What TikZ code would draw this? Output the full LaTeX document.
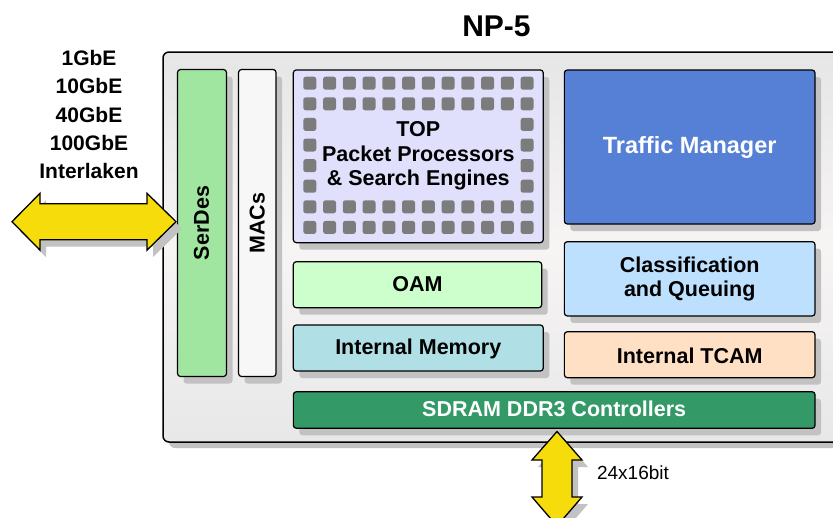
\documentclass[tikz,border=0pt]{standalone}
\usepackage{fontspec}
\setmainfont{Liberation Sans}
\usetikzlibrary{shadows,calc}
\definecolor{chiptop}{HTML}{E6E6E6}
\definecolor{chipmid}{HTML}{F7F4F4}
\definecolor{chipbot}{HTML}{E8E8E8}
\definecolor{shadowgray}{HTML}{C2C2C2}
\definecolor{serdescol}{HTML}{A0E6A0}
\definecolor{macscol}{HTML}{F7F7F7}
\definecolor{topcol}{HTML}{E0E0FC}
\definecolor{tmcol}{HTML}{5580D5}
\definecolor{classcol}{HTML}{BDE0FF}
\definecolor{oamcol}{HTML}{CCFFCC}
\definecolor{memcol}{HTML}{B0E0E6}
\definecolor{tcamcol}{HTML}{FFE0C4}
\definecolor{sdramcol}{HTML}{339966}
\definecolor{dotcol}{HTML}{7C7C7C}
\definecolor{yellowcol}{HTML}{F5DC0A}
\begin{document}
\begin{tikzpicture}[x=1pt,y=-1pt,
  shad/.style={drop shadow={shadow xshift=6pt,shadow yshift=-7pt,fill=shadowgray,opacity=1}},
  box/.style={shad,draw=black,line width=1.2pt,rounded corners=3pt,inner sep=0pt},
  chipbox/.style={draw=black,line width=1.5pt,rounded corners=6pt,inner sep=0pt,
    top color=chiptop,bottom color=chipbot,middle color=chipmid,
    drop shadow={shadow xshift=6pt,shadow yshift=-6pt,fill=shadowgray,opacity=1}},
  lbl/.style={font=\fontsize{21.5}{24.5}\selectfont\bfseries,align=center,inner sep=0pt},
  iolbl/.style={font=\fontsize{21}{24}\selectfont\bfseries,inner sep=0pt},
  dot/.style={fill=dotcol,rounded corners=2.5pt},
  bigarrow/.style={shad,draw=black,line width=1.3pt,fill=yellowcol,line join=miter}
]
\useasboundingbox (0,0) rectangle (833,517);

% chip
\node[chipbox,minimum width=682pt,minimum height=390pt] (chip) at (504,247) {};
\node[font=\fontsize{30}{32}\selectfont\bfseries,inner sep=0pt] (title) at (496.5,26) {NP-5};

% blocks
\node[box,fill=serdescol,minimum width=49pt,minimum height=307pt] (serdes) at (202,223) {};
\node[lbl,rotate=90] (serdesl) at (201.5,223) {SerDes};
\node[box,fill=macscol,minimum width=37.5pt,minimum height=307pt] (macs) at (257.3,223) {};
\node[lbl,rotate=90] (macsl) at (257.3,223) {MACs};

\node[box,fill=topcol,minimum width=250pt,minimum height=172.7pt] (top) at (418.3,156.3) {};
\foreach \r in {0,1,6,7}{\foreach \c in {0,...,11}{
  \fill[dot] ({303.3+\c*19.75},{76.7+\r*20.6}) rectangle +(13,13);}}
\foreach \r in {2,...,5}{\foreach \c in {0,11}{
  \fill[dot] ({303.3+\c*19.75},{76.7+\r*20.6}) rectangle +(13,13);}}
\node[lbl] (topl) at (418.3,156) {TOP\\Packet Processors\\\&\ Search Engines};

\node[box,fill=tmcol,minimum width=250.7pt,minimum height=154pt] (tm) at (689.7,147) {};
\node[lbl,text=white,font=\fontsize{23.5}{26}\selectfont\bfseries] (tml) at (689.7,147) {Traffic Manager};

\node[box,fill=classcol,minimum width=250.7pt,minimum height=74.3pt] (class) at (689.7,278.8) {};
\node[lbl] (classl) at (689.7,279) {Classification\\and Queuing};

\node[box,fill=oamcol,minimum width=248.4pt,minimum height=46pt] (oam) at (417.5,284.7) {};
\node[lbl] (oaml) at (417.5,284.5) {OAM};

\node[box,fill=memcol,minimum width=250pt,minimum height=46pt] (mem) at (418.3,348) {};
\node[lbl] (meml) at (418.3,349) {Internal Memory};

\node[box,fill=tcamcol,minimum width=250.7pt,minimum height=46pt] (tcam) at (689.7,354.7) {};
\node[lbl] (tcaml) at (689.7,355.5) {Internal TCAM};

\node[box,fill=sdramcol,minimum width=521.7pt,minimum height=36.6pt] (sdram) at (554.2,410) {};
\node[lbl,text=white] (sdraml) at (554.2,408.5) {SDRAM DDR3 Controllers};

% interface labels
\node[iolbl] (l1) at (89,57.5) {1GbE};
\node[iolbl] (l2) at (89,86) {10GbE};
\node[iolbl] (l3) at (89,114.5) {40GbE};
\node[iolbl] (l4) at (89,142.5) {100GbE};
\node[iolbl] (l5) at (89,170.5) {Interlaken};

% left double arrow
\coordinate (ioL) at (12,221.7);
\coordinate (ioR) at (176,221.7);
\draw[bigarrow] (ioL) -- ++(28,-28.4) -- ++(0,10.4) -- ($(ioR)+(-29,-18)$) -- ++(0,-10.4)
  -- (ioR) -- ++(-29,28.4) -- ++(0,-10.4) -- ($(ioL)+(28,18)$) -- ++(0,10.4) -- cycle;

% bottom double arrow
\coordinate (memT) at (557,431.5);
\coordinate (memB) at (557,526);
\draw[bigarrow] (memT) -- ++(25,28.5) -- ++(-10,0) -- ($(memB)+(15,-29)$) -- ++(10,0)
  -- (memB) -- ++(-25,-29) -- ++(10,0) -- ($(memT)+(-15,28.5)$) -- ++(-10,0) -- cycle;
\node[font=\fontsize{19}{22}\selectfont,inner sep=0pt] (busl) at (633,473) {24x16bit};
\end{tikzpicture}
\end{document}
